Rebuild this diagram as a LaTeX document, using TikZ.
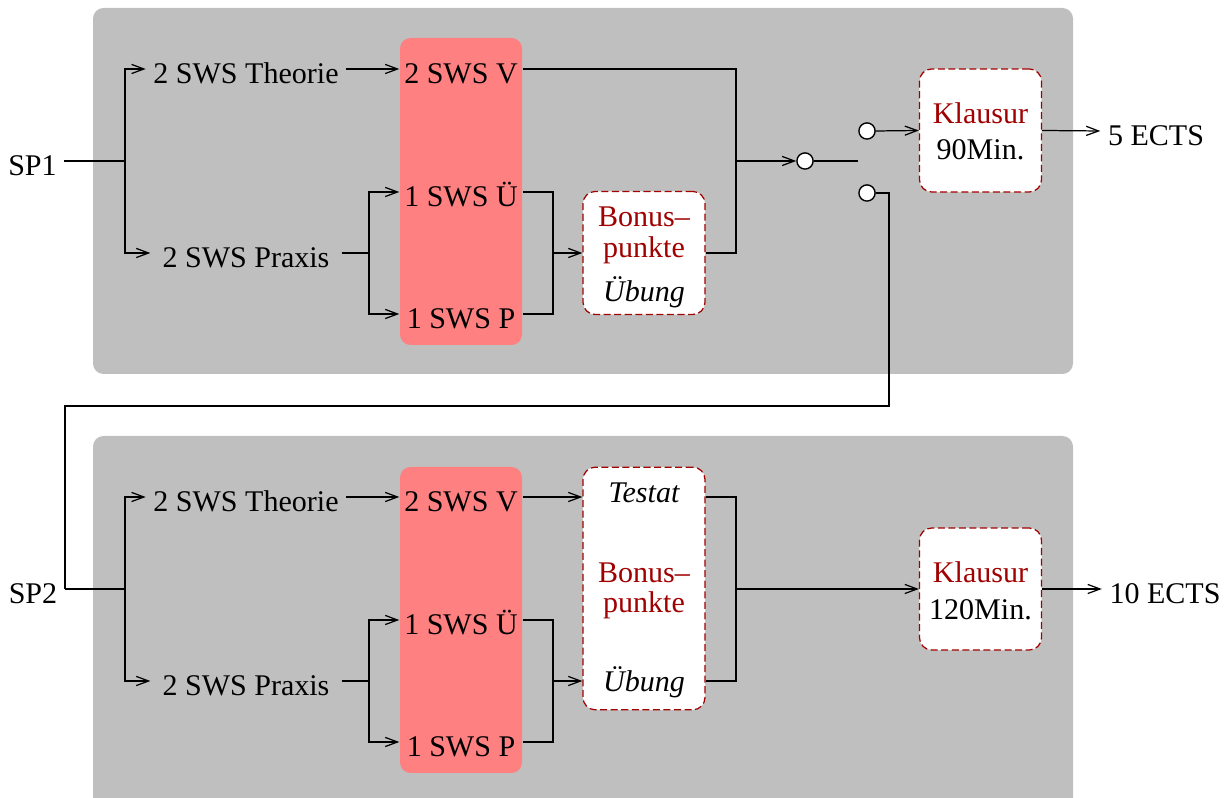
\documentclass[tikz,border=0pt]{standalone}
\usepackage{fontspec}
\setmainfont{Liberation Serif}
\usetikzlibrary{arrows.meta}
\definecolor{panelgray}{HTML}{BFBFBF}
\definecolor{slotred}{HTML}{FF8080}
\definecolor{examred}{HTML}{A00000}
\newcommand{\figfont}{\fontsize{8.54}{10}\selectfont}

\begin{document}
\begin{tikzpicture}[x=0.01cm, y=-0.01cm,
    every node/.style={font=\figfont},
    lbl/.style={inner sep=2pt, text height=0.8em, text depth=0pt},
    kind/.style={lbl, minimum width=54pt},
    slot/.style={lbl, inner sep=0pt, minimum width=34.7pt},
    exam/.style={draw=examred, dash pattern=on 2pt off 1pt, fill=white,
        rounded corners=3.5pt, minimum width=34.7pt, line width=0.35pt},
    txt/.style={anchor=base, inner sep=0pt},
    contact/.style={circle, draw, fill=white, minimum size=4.6pt, inner sep=0pt},
    wire/.style={line width=0.35pt},
    arr/.style={wire, -{Straight Barb[length=3.5pt,width=2.6pt]}},
    panel/.style={fill=panelgray, rounded corners=3pt},
    slotbg/.style={fill=slotred, rounded corners=3pt}]
        \useasboundingbox (0,0) rectangle (1227,798);

        % Background panels and the red course blocks
        \fill[panel] (93,8) rectangle (1073,374);
        \fill[panel] (93,436) rectangle (1073,840);
        \fill[slotbg] (400,38) rectangle (522,345);
        \fill[slotbg] (400,467) rectangle (522,773);

        % First semester
        \node[lbl] (sp1) at (32.5,161) {SP1};
        \node[kind] (theo1) at (246,69) {2 SWS Theorie};
        \node[kind] (prax1) at (246,253) {2 SWS Praxis};
        \node[slot] (v1) at (461,69) {2 SWS V};
        \node[slot] (u1) at (461,192) {1 SWS Ü};
        \node[slot] (p1) at (461,314) {1 SWS P};

        \node[exam, minimum height=35pt] (bonus1) at (644,253) {};
        \node[txt, examred] (bonus1a) at (644,227) {Bonus–};
        \node[txt, examred] (bonus1b) at (644,258) {punkte};
        \node[txt] (bonus1c) at (644,302) {\itshape Übung};

        % Switch
        \node[contact] (sw1) at (805,161) {};
        \node[contact] (sw2) at (867,131) {};
        \node[contact] (sw3) at (867,193) {};
        \coordinate (lever) at (858,161);

        \node[exam, minimum height=35pt] (klaus1) at (980.5,130.5) {};
        \node[txt, examred] (klaus1a) at (980.5,124) {Klausur};
        \node[txt] (klaus1b) at (980.5,160) {90Min.};
        \node[lbl] (ects1) at (1156,131) {5 ECTS};

        % Connections, first semester
        \coordinate (fork1) at (125,161);
        \draw[wire] (sp1.east) -- (fork1);
        \draw[arr] (fork1) |- (theo1.west);
        \draw[arr] (fork1) |- (prax1.west);
        \draw[arr] (theo1.east) -- (v1.west);
        \coordinate (split1) at (369,253);
        \draw[wire] (prax1.east) -- (split1);
        \draw[arr] (split1) |- (u1.west);
        \draw[arr] (split1) |- (p1.west);
        \coordinate (join1) at (553,253);
        \draw[wire] (u1.east) -| (join1) |- (p1.east);
        \draw[arr] (join1) -- (bonus1.west);
        \coordinate (join2) at (736,161);
        \draw[wire] (v1.east) -| (join2) |- (bonus1.east);
        \draw[arr] (join2) -- (sw1.west);
        \draw[wire] (sw1.east) -- (lever);
        \draw[arr] (sw2.east) -- (klaus1.west);
        \draw[arr] (klaus1.east) -- (ects1.west);

        % Second semester
        \node[lbl] (sp2) at (33,589) {SP2};
        \node[kind] (theo2) at (246,497) {2 SWS Theorie};
        \node[kind] (prax2) at (246,681) {2 SWS Praxis};
        \node[slot] (v2) at (461,497) {2 SWS V};
        \node[slot] (u2) at (461,620) {1 SWS Ü};
        \node[slot] (p2) at (461,742) {1 SWS P};

        \node[exam, minimum height=69pt] (test2) at (644,588.5) {};
        \node[txt] (test2a) at (644,503) {\itshape Testat};
        \node[txt, examred] (test2b) at (644,583) {Bonus–};
        \node[txt, examred] (test2c) at (644,613) {punkte};
        \node[txt] (test2d) at (644,692) {\itshape Übung};

        \node[exam, minimum height=34.7pt] (klaus2) at (980.5,589) {};
        \node[txt, examred] (klaus2a) at (980.5,583) {Klausur};
        \node[txt] (klaus2b) at (980.5,620) {120Min.};
        \node[lbl] (ects2) at (1165,589) {10 ECTS};

        % Loop back into the second semester
        \draw[wire] (sw3.east) -| (889,406) coordinate (loop) -| (sp2.east);

        % Connections, second semester
        \coordinate (fork3) at (125,589);
        \draw[wire] (sp2.east) -- (fork3);
        \draw[arr] (fork3) |- (theo2.west);
        \draw[arr] (fork3) |- (prax2.west);
        \draw[arr] (theo2.east) -- (v2.west);
        \coordinate (split2) at (369,681);
        \draw[wire] (prax2.east) -- (split2);
        \draw[arr] (split2) |- (u2.west);
        \draw[arr] (split2) |- (p2.west);
        \draw[arr] (v2.east) -- (v2.east -| test2.west);
        \coordinate (join3) at (553,681);
        \draw[wire] (u2.east) -| (join3) |- (p2.east);
        \draw[arr] (join3) -- (join3 -| test2.west);
        \coordinate (join4) at (736,589);
        \draw[wire] (test2.east |- v2) -| (join4) |- (test2.east |- join3);
        \draw[arr] (join4) -- (klaus2.west);
        \draw[arr] (klaus2.east) -- (ects2.west);

    \end{tikzpicture}
\end{document}
